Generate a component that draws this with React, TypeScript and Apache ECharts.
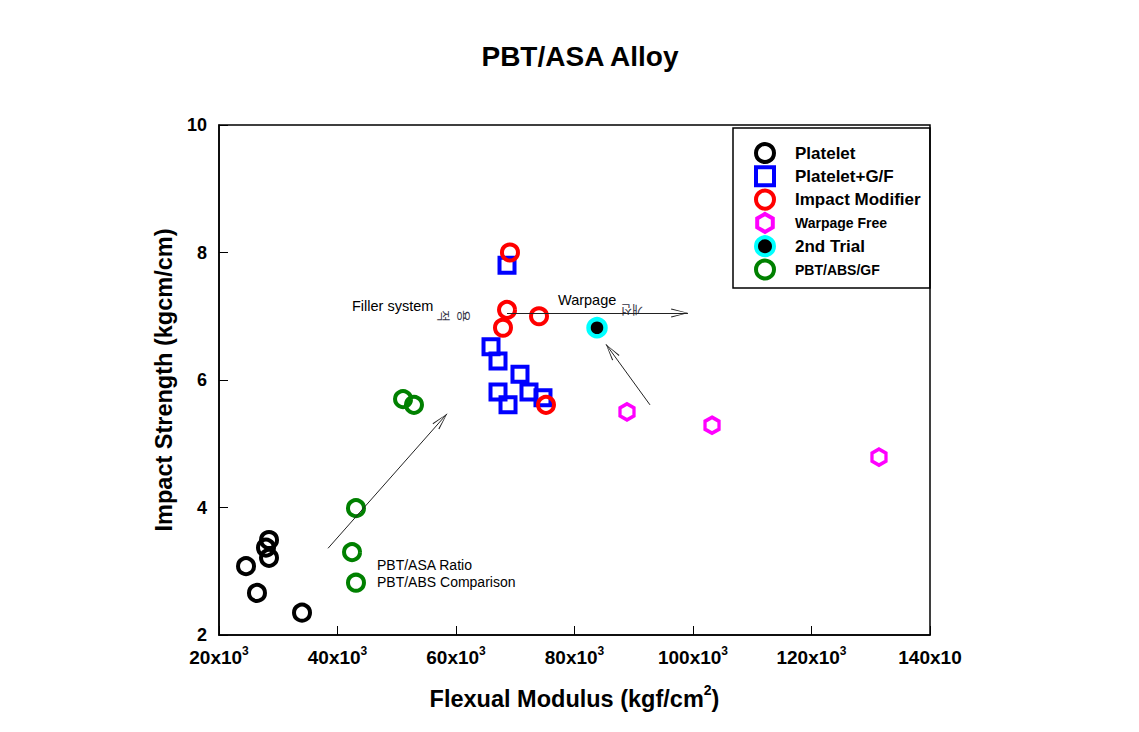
import React, { useEffect, useRef } from "react";
import * as echarts from "echarts";

const platelet: number[][] = [
  [28440, 3.49], [27930, 3.37], [28440, 3.21], [24560, 3.08], [26410, 2.66], [34010, 2.35],
];
const plateletGF: number[][] = [
  [68610, 7.8], [65910, 6.52], [67090, 6.3], [70800, 6.09], [67090, 5.81], [68780, 5.61], [72320, 5.81], [74680, 5.72],
];
const impactModifier: number[][] = [
  [69110, 8.0], [68610, 7.1], [67930, 6.82], [74010, 7.0], [75190, 5.61],
];
const warpageFree: number[][] = [
  [88860, 5.5], [103210, 5.29], [131390, 4.79],
];
const secondTrial: number[][] = [[83800, 6.82]];
const pbtAbsGf: number[][] = [
  [51060, 5.7], [52910, 5.61], [43120, 3.99], [42450, 3.3], [43120, 2.82],
];
const arrows: number[][][] = [
  [[38400, 3.36], [58480, 5.47]],
  [[68610, 7.05], [99150, 7.05]],
  [[92740, 5.61], [85320, 6.56]],
];
const xTicks = [20000, 40000, 60000, 80000, 100000, 120000, 140000];
const yTicks = [2, 4, 6, 8, 10];

const FONT = "'Liberation Sans', Arial, Helvetica, sans-serif";
const KR = "'Noto Sans CJK KR', sans-serif";
const HEX = "path://M0,-10 L8.66,-5 L8.66,5 L0,10 L-8.66,5 L-8.66,-5 Z";
const CHEVRON = "path://M0,-16 L0.01,-16 L0,-16 Z M0,0 L-4,16 L-3.1,16.4 L0,1.6 L3.1,16.4 L4,16 Z";

export default function App() {
  const ref = useRef<HTMLDivElement>(null);
  useEffect(() => {
    if (!ref.current) return;
    const chart = echarts.init(ref.current, undefined, { renderer: "svg" });
    const ring = (name: string, data: number[][], color: string, symbol: string, size: any, bw: number) => ({
      name,
      type: "scatter",
      data,
      symbol,
      symbolSize: size,
      itemStyle: { color: "rgba(0,0,0,0)", borderColor: color, borderWidth: bw, opacity: 1 },
      emphasis: { disabled: true },
    });
    const legendNames = ["Platelet", "Platelet+G/F", "Impact Modifier", "Warpage Free", "2nd Trial", "PBT/ABS/GF"];
    const smallNames = ["Warpage Free", "PBT/ABS/GF"];
    chart.setOption({
      animation: false,
      backgroundColor: "#fff",
      title: {
        text: "PBT/ASA Alloy",
        left: 575,
        textAlign: "center",
        top: 37,
        textStyle: { fontFamily: FONT, fontSize: 28, fontWeight: "bold", color: "#000" },
      },
      grid: {
        left: 219, right: 209, top: 125, bottom: 97,
        show: true, borderColor: "#000", borderWidth: 1.5, backgroundColor: "transparent",
      },
      legend: {
        data: legendNames,
        orient: "vertical",
        left: 754,
        top: 142,
        padding: 0,
        itemWidth: 18,
        itemHeight: 18,
        itemGap: 1.3,
        selectedMode: false,
        itemStyle: { borderWidth: 4 },
        formatter: (n: string) => (smallNames.includes(n) ? `{s|${n}}` : `{b|${n}}`),
        textStyle: {
          rich: {
            b: { fontFamily: FONT, fontSize: 17, fontWeight: "bold", color: "#000", padding: [0, 0, 0, 16], lineHeight: 18 },
            s: { fontFamily: FONT, fontSize: 14, fontWeight: "bold", color: "#000", padding: [0, 0, 0, 16], lineHeight: 18 },
          },
        },
      },
      xAxis: {
        type: "value",
        min: xTicks[0],
        max: xTicks[xTicks.length - 1],
        interval: 20000,
        axisLine: { show: true, lineStyle: { color: "#000", width: 1.5 } },
        axisTick: { show: true, inside: true, length: 9, lineStyle: { color: "#000", width: 1 } },
        splitLine: { show: false },
        axisLabel: {
          margin: 10,
          formatter: (v: number) => (v === 140000 ? `{a|${v / 1000}x10}` : `{a|${v / 1000}x10}{s|3}`),
          rich: {
            a: { fontFamily: FONT, fontSize: 19, fontWeight: "bold", color: "#000", lineHeight: 22, verticalAlign: "bottom" },
            s: { fontFamily: FONT, fontSize: 12, fontWeight: "bold", color: "#000", lineHeight: 12, verticalAlign: "top" },
          },
        },
        name: "{a|Flexual Modulus (kgf/cm}{s|2}{a|)}",
        nameLocation: "middle",
        nameGap: 48,
        nameTextStyle: {
          rich: {
            a: { fontFamily: FONT, fontSize: 23.5, fontWeight: "bold", color: "#000", lineHeight: 28, verticalAlign: "bottom" },
            s: { fontFamily: FONT, fontSize: 14, fontWeight: "bold", color: "#000", lineHeight: 14, verticalAlign: "top" },
          },
        },
      },
      yAxis: {
        type: "value",
        min: yTicks[0],
        max: yTicks[yTicks.length - 1],
        interval: 2,
        axisLine: { show: true, lineStyle: { color: "#000", width: 1.5 } },
        axisTick: { show: true, inside: true, length: 9, lineStyle: { color: "#000", width: 1 } },
        splitLine: { show: false },
        axisLabel: { margin: 12, fontFamily: FONT, fontSize: 18, fontWeight: "bold", color: "#000" },
        name: "Impact Strength (kgcm/cm)",
        nameLocation: "middle",
        nameRotate: 90,
        nameGap: 42,
        nameTextStyle: { fontFamily: FONT, fontSize: 23.5, fontWeight: "bold", color: "#000" },
      },
      graphic: [
        { type: "rect", shape: { x: 733, y: 128, width: 197, height: 160 }, style: { fill: "none", stroke: "#000", lineWidth: 1.5 }, z: 1 },
        { type: "text", x: 352, y: 306, style: { text: "Filler system", fontFamily: FONT, fontSize: 14.5, fill: "#000", verticalAlign: "middle" } },
        { type: "text", x: 444, y: 316, rotation: -Math.PI / 2, style: { text: "적", fontFamily: KR, fontSize: 13, fill: "#334", align: "center", verticalAlign: "middle" } },
        { type: "text", x: 464, y: 316, rotation: -Math.PI / 2, style: { text: "용", fontFamily: KR, fontSize: 13, fill: "#334", align: "center", verticalAlign: "middle" } },
        { type: "text", x: 558, y: 300, style: { text: "Warpage", fontFamily: FONT, fontSize: 14.5, fill: "#000", verticalAlign: "middle" } },
        { type: "text", x: 632, y: 310, rotation: Math.PI, style: { text: "개선", fontFamily: KR, fontSize: 12, fill: "#334", align: "center", verticalAlign: "middle" } },
        { type: "text", x: 377, y: 565, style: { text: "PBT/ASA Ratio", fontFamily: FONT, fontSize: 14, fill: "#000", verticalAlign: "middle" } },
        { type: "text", x: 377, y: 582, style: { text: "PBT/ABS Comparison", fontFamily: FONT, fontSize: 14, fill: "#000", verticalAlign: "middle" } },
      ],
      series: [
        ring("Platelet", platelet, "#000000", "circle", 16, 4),
        ring("Platelet+G/F", plateletGF, "#0000ff", "rect", 15, 4),
        ring("Impact Modifier", impactModifier, "#ff0000", "circle", 16, 4),
        ring("Warpage Free", warpageFree, "#ff00ff", HEX, [14, 16], 3.5),
        {
          name: "2nd Trial",
          type: "scatter",
          data: secondTrial,
          symbol: "circle",
          symbolSize: 17,
          itemStyle: { color: "#000", borderColor: "#00ffff", borderWidth: 4.5, opacity: 1 },
          emphasis: { disabled: true },
        },
        ring("PBT/ABS/GF", pbtAbsGf, "#008000", "circle", 16, 4),
        {
          name: "arrows",
          type: "scatter",
          data: [],
          silent: true,
          markLine: {
            silent: true,
            symbol: ["none", CHEVRON],
            symbolSize: [9, 34],
            label: { show: false },
            lineStyle: { color: "#222", width: 1, type: "solid" },
            emphasis: { disabled: true },
            data: arrows.map(([a, b]) => [{ coord: a }, { coord: b }]),
          },
        },
      ],
    });
    return () => chart.dispose();
  }, []);
  return <div ref={ref} style={{ position: "absolute", left: 0, top: 0, width: 1139, height: 732 }} />;
}
